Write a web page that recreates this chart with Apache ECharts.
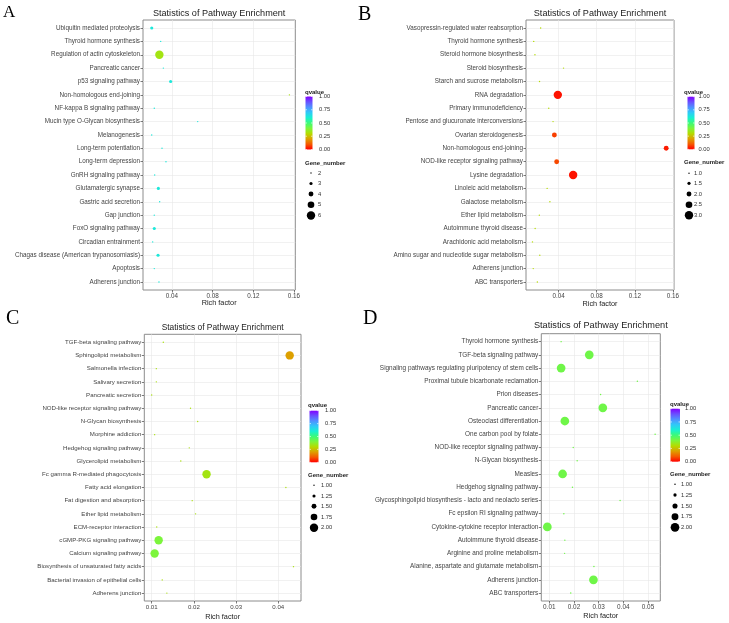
<!DOCTYPE html>
<html>
<head>
<meta charset="utf-8">
<script src="https://cdn.jsdelivr.net/npm/echarts@6/dist/echarts.min.js"></script>
<style>
html,body{margin:0;padding:0;background:#fff}
#main{width:729px;height:623px}
</style>
</head>
<body>
<div id="main"></div>
<script>
// ---- panel A ----
var aNames = ['Ubiquitin mediated proteolysis','Thyroid hormone synthesis','Regulation of actin cytoskeleton','Pancreatic cancer','p53 signaling pathway','Non-homologous end-joining','NF-kappa B signaling pathway','Mucin type O-Glycan biosynthesis','Melanogenesis','Long-term potentiation','Long-term depression','GnRH signaling pathway','Glutamatergic synapse','Gastric acid secretion','Gap junction','FoxO signaling pathway','Circadian entrainment','Chagas disease (American trypanosomiasis)','Apoptosis','Adherens junction'];
var aRich = [0.0201,0.0289,0.0276,0.0315,0.0387,0.1555,0.0226,0.0653,0.0201,0.0302,0.0341,0.0230,0.0266,0.0279,0.0226,0.0226,0.0210,0.0263,0.0226,0.0272];
var aGenes = [3,2,6,2,3,2,2,2,2,2,2,2,3,2,2,3,2,3,2,2];
var aQ = [0.62,0.62,0.33,0.62,0.62,0.32,0.62,0.62,0.62,0.62,0.62,0.62,0.62,0.62,0.62,0.62,0.62,0.62,0.62,0.62];
var aXTicks = [0.04,0.08,0.12,0.16];
var aSizeTicks = [2,3,4,5,6];

// ---- panel B ----
var bNames = ['Vasopressin-regulated water reabsorption','Thyroid hormone synthesis','Steroid hormone biosynthesis','Steroid biosynthesis','Starch and sucrose metabolism','RNA degradation','Primary immunodeficiency','Pentose and glucuronate interconversions','Ovarian steroidogenesis','Non-homologous end-joining','NOD-like receptor signaling pathway','Lysine degradation','Linoleic acid metabolism','Galactose metabolism','Ether lipid metabolism','Autoimmune thyroid disease','Arachidonic acid metabolism','Amino sugar and nucleotide sugar metabolism','Adherens junction','ABC transporters'];
var bRich = [0.0212,0.0139,0.0152,0.0452,0.0200,0.0392,0.0297,0.0342,0.0356,0.1530,0.0380,0.0553,0.0280,0.0309,0.0198,0.0154,0.0126,0.0203,0.0134,0.0177];
var bGenes = [1,1,1,1,1,3,1,1,2,2,2,3,1,1,1,1,1,1,1,1];
var bQ = [0.3,0.3,0.3,0.3,0.3,0.02,0.3,0.3,0.07,0.03,0.08,0.02,0.3,0.3,0.3,0.3,0.3,0.3,0.3,0.3];
var bXTicks = [0.04,0.08,0.12,0.16];
var bSizeTicks = [1.0,1.5,2.0,2.5,3.0];

// ---- panel C ----
var cNames = ['TGF-beta signaling pathway','Sphingolipid metabolism','Salmonella infection','Salivary secretion','Pancreatic secretion','NOD-like receptor signaling pathway','N-Glycan biosynthesis','Morphine addiction','Hedgehog signaling pathway','Glycerolipid metabolism','Fc gamma R-mediated phagocytosis','Fatty acid elongation','Fat digestion and absorption','Ether lipid metabolism','ECM-receptor interaction','cGMP-PKG signaling pathway','Calcium signaling pathway','Biosynthesis of unsaturated fatty acids','Bacterial invasion of epithelial cells','Adherens junction'];
var cRich = [0.01275,0.0427,0.0111,0.0111,0.0100,0.0192,0.0209,0.0107,0.0189,0.0169,0.0230,0.0418,0.0196,0.0204,0.0112,0.01165,0.0107,0.0436,0.0125,0.0136];
var cGenes = [1,2,1,1,1,1,1,1,1,1,2,1,1,1,1,2,2,1,1,1];
var cQ = [0.32,0.2,0.32,0.32,0.32,0.32,0.32,0.32,0.32,0.32,0.33,0.32,0.32,0.32,0.32,0.4,0.4,0.32,0.32,0.32];
var cXTicks = [0.01,0.02,0.03,0.04];
var cSizeTicks = [1.00,1.25,1.50,1.75,2.00];

// ---- panel D ----
var dNames = ['Thyroid hormone synthesis','TGF-beta signaling pathway','Signaling pathways regulating pluripotency of stem cells','Proximal tubule bicarbonate reclamation','Prion diseases','Pancreatic cancer','Osteoclast differentiation','One carbon pool by folate','NOD-like receptor signaling pathway','N-Glycan biosynthesis','Measles','Hedgehog signaling pathway','Glycosphingolipid biosynthesis - lacto and neolacto series','Fc epsilon RI signaling pathway','Cytokine-cytokine receptor interaction','Autoimmune thyroid disease','Arginine and proline metabolism','Alanine, aspartate and glutamate metabolism','Adherens junction','ABC transporters'];
var dRich = [0.0148,0.0262,0.0148,0.0457,0.0308,0.0317,0.0163,0.0529,0.0197,0.0213,0.0154,0.0194,0.0387,0.0159,0.0092,0.0163,0.0162,0.0281,0.0279,0.0187];
var dGenes = [1,2,2,1,1,2,2,1,1,1,2,1,1,1,2,1,1,1,2,1];
var dQ = [0.42,0.42,0.42,0.42,0.42,0.42,0.42,0.42,0.42,0.42,0.42,0.42,0.42,0.42,0.42,0.42,0.42,0.42,0.42,0.42];
var dXTicks = [0.01,0.02,0.03,0.04,0.05];
var dSizeTicks = [1.00,1.25,1.50,1.75,2.00];

var qTicks = [0, 0.25, 0.5, 0.75, 1];
var qColors = ['#FF0000','#F55A00','#DDA000','#B4DC00','#7CF53C','#3CFA78','#18F0D2','#30C8F8','#5090FF','#6A50FF','#8000FF'];

var panels = [
  {letter:'A', names:aNames, rich:aRich, genes:aGenes, q:aQ, xt:aXTicks, st:aSizeTicks, dig:0,
   lx:3, ly:12.8, lfs:17, left:143, top:20, w:152.3, h:270, xmin:0.0115, xmax:0.1613, tfs:9.1, ty:13.3, nameY:303, lab:6.3,
   lgx:305, qy:92, barX:305.5, barW:7, barT:96.5, barB:149.5, labX:319, gy:163, itemY:[173,183.5,194,204.7,215.5], symX:311, itemX:318, k:1.4},
  {letter:'B', names:bNames, rich:bRich, genes:bGenes, q:bQ, xt:bXTicks, st:bSizeTicks, dig:1,
   lx:358, ly:15, lfs:20, left:526, top:20, w:148, h:270, xmin:0.0058, xmax:0.1612, tfs:9.1, ty:13.3, nameY:304, lab:6.3,
   lgx:684, qy:92, barX:687.5, barW:7, barT:96.7, barB:149.3, labX:698.5, gy:162.7, itemY:[173.3,183.3,194,204.7,215.3], symX:689, itemX:694, k:1.4},
  {letter:'C', names:cNames, rich:cRich, genes:cGenes, q:cQ, xt:cXTicks, st:cSizeTicks, dig:2,
   lx:6, ly:319, lfs:20, left:144.3, top:334.3, w:156.7, h:266.7, xmin:0.00825, xmax:0.04538, tfs:8.4, ty:327.7, nameY:616.7, lab:6.1,
   lgx:308, qy:405, barX:309.5, barW:9, barT:410.7, barB:462.3, labX:325, gy:475.3, itemY:[485.3,496,506.3,517,527.7], symX:314, itemX:321, k:1.4},
  {letter:'D', names:dNames, rich:dRich, genes:dGenes, q:dQ, xt:dXTicks, st:dSizeTicks, dig:2,
   lx:363, ly:318.3, lfs:20, left:541.3, top:333.7, w:119, h:267.3, xmin:0.00676, xmax:0.0550, tfs:9.2, ty:325.7, nameY:615.7, lab:6.4,
   lgx:670, qy:404.3, barX:670.5, barW:9.5, barT:408.7, barB:461.7, labX:685, gy:474.7, itemY:[484.3,495,506,516.7,527.3], symX:675, itemX:681, k:1.45}
];

function sizeFn(p){
  var lo = p.st[0], hi = p.st[p.st.length-1];
  return function(v){ return p.k * (1 + 5 * (v - lo) / (hi - lo)); };
}

var grids = [], xAxes = [], yAxes = [], series = [], graphics = [];
var labelFont = 'Liberation Sans';

panels.forEach(function(p, i){
  var sz = sizeFn(p);
  var idx = p.names.map(function(n, j){ return j; });
  grids.push({left:p.left, top:p.top, width:p.w, height:p.h, show:true, borderColor:'#8c8c8c', borderWidth:1, backgroundColor:'#fff'});
  xAxes.push({
    gridIndex:i, type:'value', position:'bottom', min:p.xmin, max:p.xmax,
    axisLine:{show:false, onZero:false},
    axisTick:{show:true, customValues:p.xt, length:2.5, lineStyle:{color:'#444', width:0.7}},
    axisLabel:{customValues:p.xt, fontSize:p.lab, color:'#444', margin:3, fontFamily:labelFont,
      formatter:function(v){ return v.toFixed(2); }},
    splitLine:{show:true, lineStyle:{color:'#e8e8e8', width:0.6}}
  });
  yAxes.push({
    gridIndex:i, type:'value', inverse:true, min:-0.6, max:p.names.length - 1 + 0.6,
    axisLine:{show:false, onZero:false},
    axisTick:{show:true, customValues:idx, length:2.5, lineStyle:{color:'#444', width:0.7}},
    axisLabel:{customValues:idx, fontSize:p.lab, color:'#444', margin:3, fontFamily:labelFont,
      formatter:function(v){ return p.names[Math.round(v)]; }},
    splitLine:{show:true, lineStyle:{color:'#e8e8e8', width:0.6}}
  });
  series.push({
    type:'scatter', xAxisIndex:i, yAxisIndex:i,
    data:p.rich.map(function(r, j){ return [r, j, p.q[j], p.genes[j]]; }),
    symbolSize:function(v){ return sz(v[3]); },
    itemStyle:{opacity:1}, emphasis:{disabled:true}, silent:true
  });

  // panel letter, title, axis name
  graphics.push({type:'text', left:p.lx, top:p.ly - p.lfs*0.5, style:{text:p.letter, font:p.lfs + 'px "Liberation Serif"', fill:'#000'}});
  graphics.push({type:'text', x:p.left + p.w/2, y:p.ty, style:{text:'Statistics of Pathway Enrichment', fontSize:p.tfs, fontFamily:labelFont, fill:'#222', align:'center', verticalAlign:'middle'}});
  graphics.push({type:'text', x:p.left + p.w/2, y:p.nameY, style:{text:'Rich factor', fontSize:7.3, fontFamily:labelFont, fill:'#222', align:'center', verticalAlign:'middle'}});

  // qvalue colour bar
  graphics.push({type:'text', x:p.lgx, y:p.qy, style:{text:'qvalue', fontSize:6, fontWeight:'bold', fontFamily:labelFont, fill:'#222', verticalAlign:'middle'}});
  var stops = qColors.map(function(c, j){ return {offset:j/(qColors.length-1), color:c}; });
  graphics.push({type:'rect', shape:{x:p.barX, y:p.barT, width:p.barW, height:p.barB - p.barT},
    style:{fill:{type:'linear', x:0, y:1, x2:0, y2:0, colorStops:stops}}});
  qTicks.forEach(function(t){
    var yy = p.barB - t*(p.barB - p.barT);
    graphics.push({type:'line', shape:{x1:p.barX, y1:yy, x2:p.barX + 1.5, y2:yy}, style:{stroke:'#fff', lineWidth:0.6}});
    graphics.push({type:'line', shape:{x1:p.barX + p.barW - 1.5, y1:yy, x2:p.barX + p.barW, y2:yy}, style:{stroke:'#fff', lineWidth:0.6}});
    graphics.push({type:'text', x:p.labX, y:yy, style:{text:t.toFixed(2), fontSize:5.8, fontFamily:labelFont, fill:'#333', verticalAlign:'middle'}});
  });

  // Gene_number size legend
  graphics.push({type:'text', x:p.lgx, y:p.gy, style:{text:'Gene_number', fontSize:6, fontWeight:'bold', fontFamily:labelFont, fill:'#222', verticalAlign:'middle'}});
  p.st.forEach(function(s, j){
    graphics.push({type:'circle', shape:{cx:p.symX, cy:p.itemY[j], r:sz(s)/2}, style:{fill:'#000'}});
    graphics.push({type:'text', x:p.itemX, y:p.itemY[j], style:{text:s.toFixed(p.dig), fontSize:5.8, fontFamily:labelFont, fill:'#333', verticalAlign:'middle'}});
  });
});

var chart = echarts.init(document.getElementById('main'));
chart.setOption({
  animation:false,
  backgroundColor:'#fff',
  grid:grids,
  xAxis:xAxes,
  yAxis:yAxes,
  visualMap:[{type:'continuous', show:false, min:0, max:1, dimension:2, seriesIndex:[0,1,2,3], inRange:{color:qColors}}],
  series:series,
  graphic:graphics
});
</script>
</body>
</html>
